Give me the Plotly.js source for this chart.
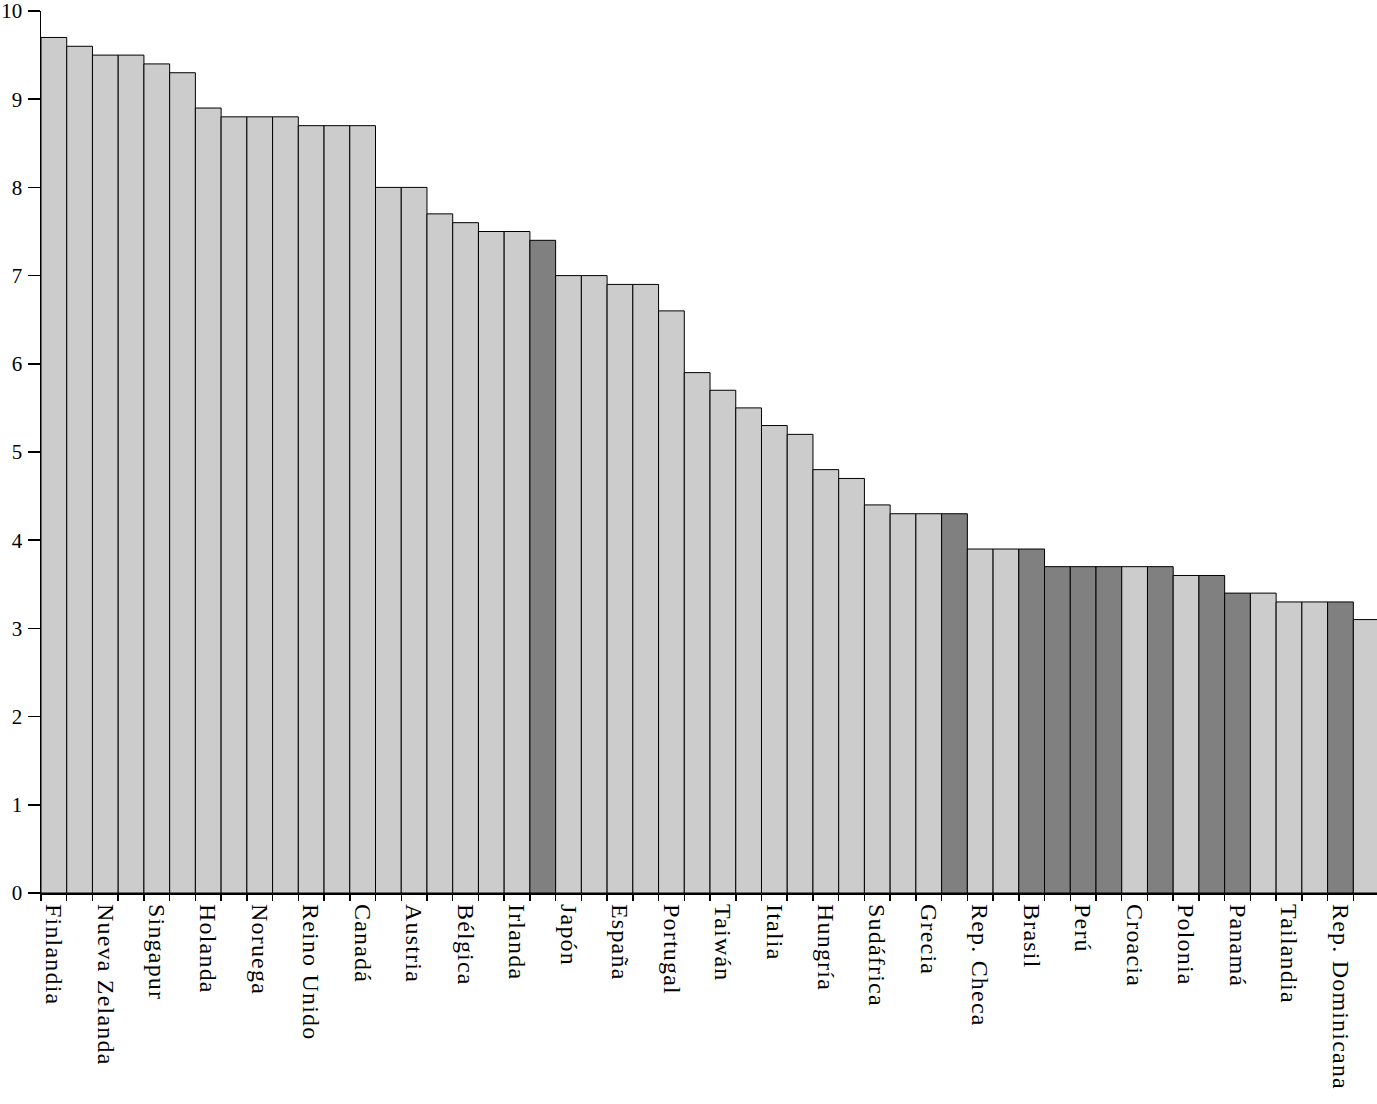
<!DOCTYPE html>
<html>
<head>
<meta charset="utf-8">
<script src="https://cdn.plot.ly/plotly-3.0.1.min.js"></script>
<style>
html,body{margin:0;padding:0;background:#fff;overflow:hidden;}
#chart{width:1377px;height:1104px;}
.x2tick text{letter-spacing:1.2px;}
</style>
</head>
<body>
<div id="chart"></div>
<script>
// Labels shown under every other bar (bars 1,3,5,...)
const labels = ["Finlandia","Nueva Zelanda","Singapur","Holanda","Noruega","Reino Unido","Canadá","Austria","Bélgica","Irlanda","Japón","España","Portugal","Taiwán","Italia","Hungría","Sudáfrica","Grecia","Rep. Checa","Brasil","Perú","Croacia","Polonia","Panamá","Tailandia","Rep. Dominicana"];
// Bar values, left to right (52 bars)
const values = [9.7,9.6,9.5,9.5,9.4,9.3,8.9,8.8,8.8,8.8,8.7,8.7,8.7,8.0,8.0,7.7,7.6,7.5,7.5,7.4,7.0,7.0,6.9,6.9,6.6,5.9,5.7,5.5,5.3,5.2,4.8,4.7,4.4,4.3,4.3,4.3,3.9,3.9,3.9,3.7,3.7,3.7,3.7,3.7,3.6,3.6,3.4,3.4,3.3,3.3,3.3,3.1];
// Highlighted (dark) bars: 1 = dark, 0 = light
const highlight = [0,0,0,0,0,0,0,0,0,0,0,0,0,0,0,0,0,0,0,1,0,0,0,0,0,0,0,0,0,0,0,0,0,0,0,1,0,0,1,1,1,1,0,1,0,1,1,0,0,0,1,0];
const yTicks = [0,1,2,3,4,5,6,7,8,9,10];

const LIGHT = "#cccccc", DARK = "#808080";
const xs = values.map((v,i)=>i);
const colors = highlight.map(h => h ? DARK : LIGHT);
const boundaries = values.map((v,i)=>i-0.5).concat([values.length-0.5]);
const labelPos = labels.map((l,i)=>2*i);
const FONT = "Liberation Serif, Times New Roman, serif";
const xr = [-0.5, 51.42];

const trace = {
  type: "bar",
  x: xs,
  y: values,
  width: 1,
  marker: {color: colors, line: {color: "#000", width: 1}},
  hoverinfo: "y"
};

const layout = {
  width: 1377,
  height: 1104,
  margin: {l: 41, r: 0, t: 11, b: 211, pad: 0},
  paper_bgcolor: "#fff",
  plot_bgcolor: "#fff",
  showlegend: false,
  bargap: 0,
  font: {family: FONT, color: "#000", size: 21},
  xaxis: {
    range: xr,
    tickmode: "array",
    tickvals: boundaries,
    showticklabels: false,
    ticks: "outside",
    ticklen: 6,
    tickwidth: 1.5,
    tickcolor: "#000",
    showline: true,
    linecolor: "#000",
    linewidth: 1.5,
    showgrid: false,
    zeroline: false,
    fixedrange: true
  },
  xaxis2: {
    overlaying: "x",
    matches: "x",
    anchor: "y",
    side: "bottom",
    range: xr,
    tickmode: "array",
    tickvals: labelPos,
    ticktext: labels,
    tickangle: 90,
    ticks: "",
    ticklabelstandoff: 10,
    ticklabeloverflow: "allow",
    tickfont: {family: FONT, size: 24, color: "#000"},
    showline: false,
    showgrid: false,
    zeroline: false
  },
  yaxis: {
    range: [0, 10],
    tickmode: "array",
    tickvals: yTicks,
    ticktext: yTicks.map(String),
    ticks: "outside",
    ticklen: 12,
    tickwidth: 1.5,
    tickcolor: "#000",
    ticklabelstandoff: 1,
    ticklabeloverflow: "allow",
    tickfont: {family: FONT, size: 21, color: "#000"},
    showline: true,
    linecolor: "#000",
    linewidth: 1.5,
    showgrid: false,
    zeroline: false,
    fixedrange: true
  }
};

Plotly.newPlot("chart", [trace, {type:"scatter", x:[], y:[], xaxis:"x2", yaxis:"y", showlegend:false, hoverinfo:"skip"}], layout, {displayModeBar: false, staticPlot: true});
</script>
</body>
</html>
